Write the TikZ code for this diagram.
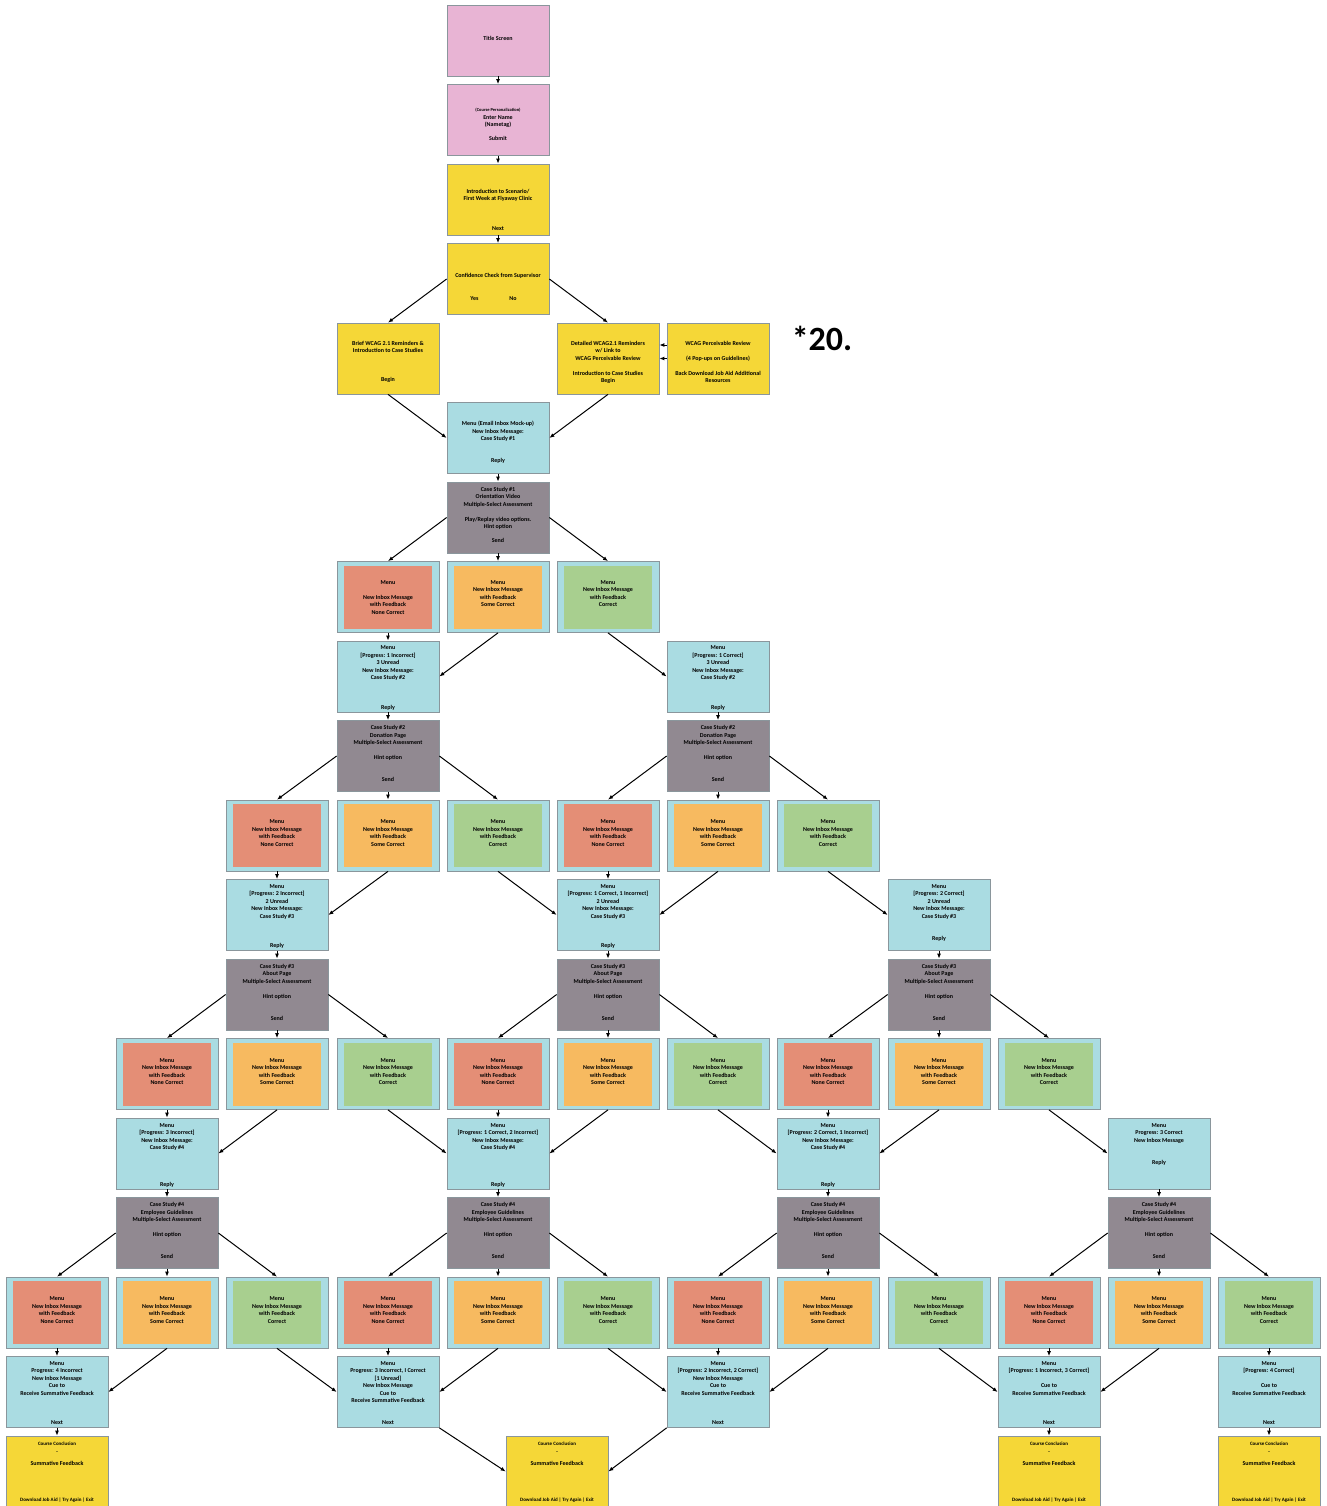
\documentclass[tikz,border=0pt]{standalone}
\usepackage{fontspec}
\setmainfont{Carlito}
\usepackage{tikz}
\usetikzlibrary{arrows.meta}

\definecolor{pinkfill}{HTML}{E8B4D4}
\definecolor{yellowfill}{HTML}{F5D737}
\definecolor{menufill}{HTML}{AADCE2}
\definecolor{casefill}{HTML}{918991}
\definecolor{nonefill}{HTML}{E48E76}
\definecolor{somefill}{HTML}{F7BA60}
\definecolor{fullfill}{HTML}{A8CF8F}
\definecolor{edgegray}{HTML}{8A969C}

\tikzset{
  stage/.style={draw=edgegray, line width=0.7pt, minimum width=102pt, minimum height=71pt, inner sep=0pt, font=\fontsize{6}{7.5}\selectfont\bfseries},
  pinkbox/.style={stage, fill=pinkfill},
  yellowbox/.style={stage, fill=yellowfill},
  menubox/.style={stage, fill=menufill},
  casebox/.style={stage, fill=casefill},
  feedback/.style={stage, fill=menufill, path picture={\fill[#1] ([xshift=7pt,yshift=-4pt]path picture bounding box.north west) rectangle ([xshift=-7pt,yshift=4pt]path picture bounding box.south east);}},
  nonefb/.style={feedback=nonefill},
  somefb/.style={feedback=somefill},
  fullfb/.style={feedback=fullfill},
  link/.style={-{Latex[length=5pt,width=4pt]}, line width=1pt},
}

% text block of a box, set from the top
\newcommand{\card}[2]{\parbox[c][71pt][t]{100pt}{\centering\vspace*{\dimexpr#1+1.5pt\relax}#2}}
\newcommand{\fbnone}{\card{18.5pt}{Menu\\New Inbox Message\\with Feedback\\None Correct}}
\newcommand{\fbsome}{\card{18.5pt}{Menu\\New Inbox Message\\with Feedback\\Some Correct}}
\newcommand{\fbfull}{\card{18.5pt}{Menu\\New Inbox Message\\with Feedback\\Correct}}
\newcommand{\casetext}[2]{\card{3.5pt}{Case Study \##1\\#2\\Multiple-Select Assessment\\[7.5pt]Hint option\\[14.5pt]Send}}
\newcommand{\closing}{\card{4.5pt}{{\fontsize{5}{7.5}\selectfont Course Conclusion}\\{\fontsize{5}{7.5}\selectfont --}\\[4.5pt]Summative Feedback\\[29pt]{\fontsize{5}{7.5}\selectfont Download Job Aid | Try Again | Exit}}}

\begin{document}
\begin{tikzpicture}[x=1pt,y=-1pt]
\fill[white] (0,0) rectangle (1326,1506);
\useasboundingbox (0,0) rectangle (1326,1506);

% opening
\node[pinkbox] (title) at (498,40.5) {\card{29.5pt}{Title Screen}};
\node[pinkbox] (name) at (498,120) {\card{22.5pt}{{\fontsize{4.5}{7.5}\selectfont(Course Personalization)}\\Enter Name\\(Nametag)\\[6.5pt]Submit}};
\node[yellowbox] (intro) at (498,199.5) {\card{23.5pt}{Introduction to Scenario/\\First Week at Flyaway Clinic\\[22.5pt]Next}};
\node[yellowbox] (check) at (498,279) {\card{28.5pt}{Confidence Check from Supervisor\\[15.5pt]Yes\hspace{31pt}No\hspace*{9pt}}};
\node[yellowbox] (brief) at (388,358.5) {\card{16.5pt}{Brief WCAG 2.1 Reminders \&\\Introduction to Case Studies\\[21.5pt]Begin}};
\node[yellowbox] (detail) at (608,358.5) {\card{16.5pt}{Detailed WCAG2.1 Reminders\\w/ Link to\\WCAG Perceivable Review\\[7.5pt]Introduction to Case Studies\\Begin}};
\node[yellowbox] (review) at (718,358.5) {\card{16.5pt}{WCAG Perceivable Review\\[7.5pt](4 Pop-ups on Guidelines)\\[7.5pt]Back Download Job Aid Additional\\Resources}};
\node[font=\fontsize{34}{40}\selectfont\bfseries] (mark) at (822,338) {*20.};

% case study 1
\node[menubox] (m1) at (498,438) {\card{17.5pt}{Menu (Email Inbox Mock-up)\\New Inbox Message:\\Case Study \#1\\[14.5pt]Reply}};
\node[casebox] (cs1) at (498,517.5) {\card{3.5pt}{Case Study \#1\\Orientation Video\\Multiple-Select Assessment\\[7.5pt]Play/Replay video options.\\Hint option\\[6pt]Send}};
\node[nonefb] (n1) at (388,597) {\card{17.5pt}{Menu\\[7.5pt]New Inbox Message\\with Feedback\\None Correct}};
\node[somefb] (s1) at (498,597) {\card{17.5pt}{Menu\\New Inbox Message\\with Feedback\\Some Correct}};
\node[fullfb] (k1) at (608,597) {\card{17.5pt}{Menu\\New Inbox Message\\with Feedback\\Correct}};

% case study 2
\node[menubox] (m2a) at (388,676.5) {\card{3.5pt}{Menu\\\relax[Progress: 1 Incorrect]\\3 Unread\\New Inbox Message:\\Case Study \#2\\[22.5pt]Reply}};
\node[menubox] (m2b) at (718,676.5) {\card{3.5pt}{Menu\\\relax[Progress: 1 Correct]\\3 Unread\\New Inbox Message:\\Case Study \#2\\[22.5pt]Reply}};
\node[casebox] (cs2a) at (388,756) {\casetext{2}{Donation Page}};
\node[casebox] (cs2b) at (718,756) {\casetext{2}{Donation Page}};
\node[nonefb] (n2a) at (277,835.5) {\fbnone};
\node[somefb] (s2a) at (388,835.5) {\fbsome};
\node[fullfb] (k2a) at (498,835.5) {\fbfull};
\node[nonefb] (n2b) at (608,835.5) {\fbnone};
\node[somefb] (s2b) at (718,835.5) {\fbsome};
\node[fullfb] (k2b) at (828,835.5) {\fbfull};

% case study 3
\node[menubox] (m3a) at (277,915) {\card{3.5pt}{Menu\\\relax[Progress: 2 Incorrect]\\2 Unread\\New Inbox Message:\\Case Study \#3\\[21.5pt]Reply}};
\node[menubox] (m3b) at (608,915) {\card{3.5pt}{Menu\\\relax[Progress: 1 Correct, 1 Incorrect]\\2 Unread\\New Inbox Message:\\Case Study \#3\\[21.5pt]Reply}};
\node[menubox] (m3c) at (939,915) {\card{3.5pt}{Menu\\\relax[Progress: 2 Correct]\\2 Unread\\New Inbox Message:\\Case Study \#3\\[14.5pt]Reply}};
\node[casebox] (cs3a) at (277,994.5) {\casetext{3}{About Page}};
\node[casebox] (cs3b) at (608,994.5) {\casetext{3}{About Page}};
\node[casebox] (cs3c) at (939,994.5) {\casetext{3}{About Page}};
\node[nonefb] (n3a) at (167,1074) {\fbnone};
\node[somefb] (s3a) at (277,1074) {\fbsome};
\node[fullfb] (k3a) at (388,1074) {\fbfull};
\node[nonefb] (n3b) at (498,1074) {\fbnone};
\node[somefb] (s3b) at (608,1074) {\fbsome};
\node[fullfb] (k3b) at (718,1074) {\fbfull};
\node[nonefb] (n3c) at (828,1074) {\fbnone};
\node[somefb] (s3c) at (939,1074) {\fbsome};
\node[fullfb] (k3c) at (1049,1074) {\fbfull};

% case study 4
\node[menubox] (m4a) at (167,1153.5) {\card{4pt}{Menu\\\relax[Progress: 3 Incorrect]\\New Inbox Message:\\Case Study \#4\\[29pt]Reply}};
\node[menubox] (m4b) at (498,1153.5) {\card{4pt}{Menu\\\relax[Progress: 1 Correct, 2 Incorrect]\\New Inbox Message:\\Case Study \#4\\[29pt]Reply}};
\node[menubox] (m4c) at (828,1153.5) {\card{4pt}{Menu\\\relax[Progress: 2 Correct, 1 Incorrect]\\New Inbox Message:\\Case Study \#4\\[29pt]Reply}};
\node[menubox] (m4d) at (1159,1153.5) {\card{4pt}{Menu\\Progress: 3 Correct\\New Inbox Message\\[14.5pt]Reply}};
\node[casebox] (cs4a) at (167,1233) {\casetext{4}{Employee Guidelines}};
\node[casebox] (cs4b) at (498,1233) {\casetext{4}{Employee Guidelines}};
\node[casebox] (cs4c) at (828,1233) {\casetext{4}{Employee Guidelines}};
\node[casebox] (cs4d) at (1159,1233) {\casetext{4}{Employee Guidelines}};
\node[nonefb] (n4a) at (57,1312.5) {\fbnone};
\node[somefb] (s4a) at (167,1312.5) {\fbsome};
\node[fullfb] (k4a) at (277,1312.5) {\fbfull};
\node[nonefb] (n4b) at (388,1312.5) {\fbnone};
\node[somefb] (s4b) at (498,1312.5) {\fbsome};
\node[fullfb] (k4b) at (608,1312.5) {\fbfull};
\node[nonefb] (n4c) at (718,1312.5) {\fbnone};
\node[somefb] (s4c) at (828,1312.5) {\fbsome};
\node[fullfb] (k4c) at (939,1312.5) {\fbfull};
\node[nonefb] (n4d) at (1049,1312.5) {\fbnone};
\node[somefb] (s4d) at (1159,1312.5) {\fbsome};
\node[fullfb] (k4d) at (1269,1312.5) {\fbfull};

% summative feedback
\node[menubox] (m5a) at (57,1392) {\card{3.5pt}{Menu\\Progress: 4 Incorrect\\New Inbox Message\\Cue to\\Receive Summative Feedback\\[21.5pt]Next}};
\node[menubox] (m5b) at (388,1392) {\card{3.5pt}{Menu\\Progress: 3 Incorrect, I Correct\\\relax[1 Unread]\\New Inbox Message\\Cue to\\Receive Summative Feedback\\[14pt]Next}};
\node[menubox] (m5c) at (718,1392) {\card{3.5pt}{Menu\\\relax[Progress: 2 Incorrect, 2 Correct]\\New Inbox Message\\Cue to\\Receive Summative Feedback\\[21.5pt]Next}};
\node[menubox] (m5d) at (1049,1392) {\card{3.5pt}{Menu\\\relax[Progress: 1 Incorrect, 3 Correct]\\[7.5pt]Cue to\\Receive Summative Feedback\\[21.5pt]Next}};
\node[menubox] (m5e) at (1269,1392) {\card{3.5pt}{Menu\\\relax[Progress: 4 Correct]\\[7.5pt]Cue to\\Receive Summative Feedback\\[21.5pt]Next}};
\node[yellowbox] (endA) at (57,1471.5) {\closing};
\node[yellowbox] (endB) at (557,1471.5) {\closing};
\node[yellowbox] (endC) at (1049,1471.5) {\closing};
\node[yellowbox] (endD) at (1269,1471.5) {\closing};

% connectors
\draw[link] (title) -- (name);
\draw[link] (name) -- (intro);
\draw[link] (intro) -- (check);
\draw[link] (check.west) -- (brief.north);
\draw[link] (check.east) -- (detail.north);
\draw[link] ([yshift=13.5pt]review.west) -- ([yshift=13.5pt]detail.east);
\draw[link] (review.west) -- (detail.east);
\draw[link] (brief.south) -- (m1.west);
\draw[link] (detail.south) -- (m1.east);
\draw[link] (m1) -- (cs1);
\draw[link] (cs1.west) -- (n1.north);
\draw[link] (cs1) -- (s1);
\draw[link] (cs1.east) -- (k1.north);
\draw[link] (n1) -- (m2a);
\draw[link] (s1.south) -- (m2a.east);
\draw[link] (k1.south) -- (m2b.west);

\draw[link] (m2a) -- (cs2a);
\draw[link] (m2b) -- (cs2b);
\draw[link] (cs2a.west) -- (n2a.north);
\draw[link] (cs2a) -- (s2a);
\draw[link] (cs2a.east) -- (k2a.north);
\draw[link] (cs2b.west) -- (n2b.north);
\draw[link] (cs2b) -- (s2b);
\draw[link] (cs2b.east) -- (k2b.north);
\draw[link] (n2a) -- (m3a);
\draw[link] (s2a.south) -- (m3a.east);
\draw[link] (k2a.south) -- (m3b.west);
\draw[link] (n2b) -- (m3b);
\draw[link] (s2b.south) -- (m3b.east);
\draw[link] (k2b.south) -- (m3c.west);

\draw[link] (m3a) -- (cs3a);
\draw[link] (m3b) -- (cs3b);
\draw[link] (m3c) -- (cs3c);
\draw[link] (cs3a.west) -- (n3a.north);
\draw[link] (cs3a) -- (s3a);
\draw[link] (cs3a.east) -- (k3a.north);
\draw[link] (cs3b.west) -- (n3b.north);
\draw[link] (cs3b) -- (s3b);
\draw[link] (cs3b.east) -- (k3b.north);
\draw[link] (cs3c.west) -- (n3c.north);
\draw[link] (cs3c) -- (s3c);
\draw[link] (cs3c.east) -- (k3c.north);
\draw[link] (n3a) -- (m4a);
\draw[link] (s3a.south) -- (m4a.east);
\draw[link] (k3a.south) -- (m4b.west);
\draw[link] (n3b) -- (m4b);
\draw[link] (s3b.south) -- (m4b.east);
\draw[link] (k3b.south) -- (m4c.west);
\draw[link] (n3c) -- (m4c);
\draw[link] (s3c.south) -- (m4c.east);
\draw[link] (k3c.south) -- (m4d.west);

\draw[link] (m4a) -- (cs4a);
\draw[link] (m4b) -- (cs4b);
\draw[link] (m4c) -- (cs4c);
\draw[link] (m4d) -- (cs4d);
\draw[link] (cs4a.west) -- (n4a.north);
\draw[link] (cs4a) -- (s4a);
\draw[link] (cs4a.east) -- (k4a.north);
\draw[link] (cs4b.west) -- (n4b.north);
\draw[link] (cs4b) -- (s4b);
\draw[link] (cs4b.east) -- (k4b.north);
\draw[link] (cs4c.west) -- (n4c.north);
\draw[link] (cs4c) -- (s4c);
\draw[link] (cs4c.east) -- (k4c.north);
\draw[link] (cs4d.west) -- (n4d.north);
\draw[link] (cs4d) -- (s4d);
\draw[link] (cs4d.east) -- (k4d.north);
\draw[link] (n4a) -- (m5a);
\draw[link] (s4a.south) -- (m5a.east);
\draw[link] (k4a.south) -- (m5b.west);
\draw[link] (n4b) -- (m5b);
\draw[link] (s4b.south) -- (m5b.east);
\draw[link] (k4b.south) -- (m5c.west);
\draw[link] (n4c) -- (m5c);
\draw[link] (s4c.south) -- (m5c.east);
\draw[link] (k4c.south) -- (m5d.west);
\draw[link] (n4d) -- (m5d);
\draw[link] (s4d.south) -- (m5d.east);
\draw[link] (k4d) -- (m5e);

\draw[link] (m5a) -- (endA);
\draw[link] (m5b.south east) -- (endB.west);
\draw[link] (m5c.south west) -- (endB.east);
\draw[link] (m5d) -- (endC);
\draw[link] (m5e) -- (endD);
\end{tikzpicture}
\end{document}
